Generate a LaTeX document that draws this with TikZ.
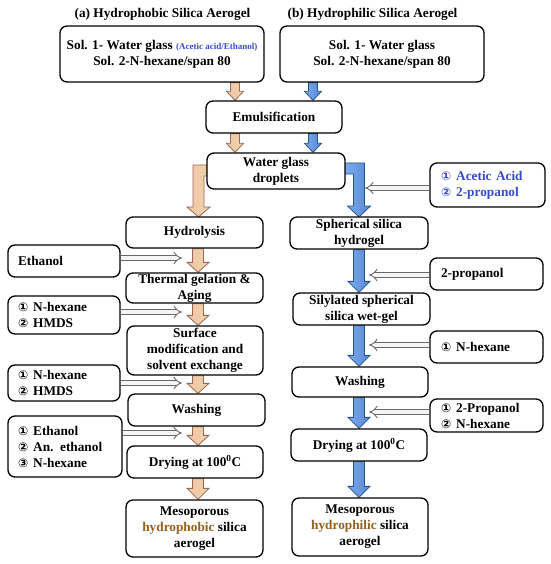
\documentclass[tikz,border=0pt]{standalone}
\usepackage{fontspec}
\setmainfont{Liberation Serif}
\newfontfamily\djfont{DejaVu Sans}
\usetikzlibrary{arrows.meta,calc,backgrounds}
\definecolor{tanL}{RGB}{244,196,170}
\definecolor{tanR}{RGB}{236,212,168}
\definecolor{tanD}{RGB}{150,105,85}
\definecolor{blueL}{RGB}{125,170,235}
\definecolor{blueR}{RGB}{85,135,215}
\definecolor{blueD}{RGB}{35,85,130}
\definecolor{hollowc}{RGB}{105,105,105}
\definecolor{bluet}{RGB}{55,75,200}
\definecolor{brownt}{RGB}{150,95,30}
\newcommand{\cnum}[1]{{\djfont\fontsize{12}{16}\selectfont #1}\hspace{5pt}}
% fat vertical arrow: #1 x, #2 top node, #3 bottom node, #4 style, #5 shaft half width, #6 head half width, #7 head length
\newcommand{\fatdown}[7]{%
  \path[#4] let \p1=(#2.south), \p2=(#3.north) in
   ({#1pt-#5pt},\y1) -- ({#1pt+#5pt},\y1) -- ({#1pt+#5pt},{\y2+#7pt}) -- ({#1pt+#6pt},{\y2+#7pt})
   -- (#1pt,\y2) -- ({#1pt-#6pt},{\y2+#7pt}) -- ({#1pt-#5pt},{\y2+#7pt}) -- cycle;}
\begin{document}
\begin{tikzpicture}[x=1pt,y=-1pt,
  txt/.style={font=\fontsize{13.3}{16}\selectfont\bfseries},
  box/.style={txt, draw=black, line width=1.3pt, rounded corners=7pt, fill=white, inner sep=0pt, align=center},
  sidebox/.style={txt, draw=black, line width=1.3pt, rounded corners=7pt, fill=white, inner xsep=10pt, inner ysep=0pt, align=left},
  hollow/.style={draw=hollowc, double=white!92!gray, double distance=3.5pt, line width=0.9pt, -{Implies}},
  tanarrow/.style={draw=tanD, line width=0.8pt, left color=tanL, right color=tanR},
  bluearrow/.style={draw=blueD, line width=0.8pt, left color=blueL, right color=blueR}
]
\useasboundingbox (0,0) rectangle (550,564);

% titles
\node[txt] (titA) at (162.5,14) {(a) Hydrophobic Silica Aerogel};
\node[txt] (titB) at (372.5,14) {(b) Hydrophilic Silica Aerogel};

% top boxes
\node[box, minimum width=204pt, minimum height=56pt] (solA) at (162,54)
  {Sol. 1- Water glass {\color{bluet}\fontsize{9}{16}\selectfont(Acetic acid/Ethanol)}\\Sol. 2-N-hexane/span 80};
\node[box, minimum width=204pt, minimum height=56pt] (solB) at (382,54)
  {Sol. 1- Water glass\\Sol. 2-N-hexane/span 80};
\node[box, minimum width=136pt, minimum height=32pt] (emul) at (274,117) {Emulsification};
\node[box, minimum width=138pt, minimum height=36pt] (wgd) at (276,171) {Water glass\\droplets};

% left chain
\node[box, minimum width=137pt, minimum height=31pt] (hyd) at (194.5,232.5) {Hydrolysis};
\node[box, minimum width=137pt, minimum height=30pt] (therm) at (194.5,288) {Thermal gelation \&\\Aging};
\node[box, minimum width=136pt, minimum height=49pt] (surf) at (195,350.5) {Surface\\modification and\\solvent exchange};
\node[box, minimum width=137pt, minimum height=32pt] (washA) at (196.5,410) {Washing};
\node[box, minimum width=136pt, minimum height=32pt] (dryA) at (195,462) {Drying at 100\textsuperscript{0}C};
\node[box, minimum width=137pt, minimum height=57pt] (finA) at (194.5,528.5)
  {Mesoporous\\{\color{brownt}hydrophobic} silica\\aerogel};

% left side boxes
\node[sidebox, text width=92pt, minimum height=32pt] (eth) at (64,261) {Ethanol};
\node[sidebox, text width=92pt, minimum height=38pt] (nh1) at (64,315) {\cnum{①}N-hexane\\\cnum{②}HMDS};
\node[sidebox, text width=92pt, minimum height=36pt] (nh2) at (64,383) {\cnum{①}N-hexane\\\cnum{②}HMDS};
\node[sidebox, text width=94pt, minimum height=61pt] (ean) at (65,446.5) {\cnum{①}Ethanol\\\cnum{②}An. ethanol\\\cnum{③}N-hexane};

% right chain
\node[box, minimum width=138pt, minimum height=32pt] (ssh) at (359,233) {Spherical silica\\hydrogel};
\node[box, minimum width=137pt, minimum height=32pt] (sil) at (361.5,309) {Silylated spherical\\silica wet-gel};
\node[box, minimum width=136pt, minimum height=30pt] (washB) at (360,382) {Washing};
\node[box, minimum width=136pt, minimum height=32pt] (dryB) at (359,445) {Drying at 100\textsuperscript{0}C};
\node[box, minimum width=136pt, minimum height=58pt] (finB) at (360,527)
  {Mesoporous\\{\color{brownt}hydrophilic} silica\\aerogel};

% right side boxes
\node[sidebox, inner xsep=11pt, text width=93pt, minimum height=44pt] (acet) at (487.5,185)
  {\color{bluet}\cnum{①}Acetic Acid\\\color{bluet}\cnum{②}2-propanol};
\node[sidebox, inner xsep=11pt, text width=91pt, minimum height=32pt] (prop) at (486.5,274) {2-propanol};
\node[sidebox, inner xsep=11pt, text width=91pt, minimum height=32pt] (nhex) at (486.5,347) {\cnum{①}N-hexane};
\node[sidebox, inner xsep=11pt, text width=91pt, minimum height=33pt] (pnh) at (486.5,415.5) {\cnum{①}2-Propanol\\\cnum{②}N-hexane};

\begin{pgfonlayer}{background}
% top arrows
\fatdown{235}{solA}{emul}{tanarrow}{4.5}{8.5}{9}
\fatdown{313}{solB}{emul}{bluearrow}{4.5}{8.5}{9}
\fatdown{235}{emul}{wgd}{tanarrow}{4.5}{8.5}{9}
\fatdown{313}{emul}{wgd}{bluearrow}{4.5}{8.5}{9}
% elbow pipes
\path[tanarrow] (207,165) -- (193,165) -- (193,207) -- (187,207) -- (198.5,217) -- (210,207)
  -- (204,207) -- (204,176) -- (207,176) -- cycle;
\path[bluearrow] (345,163) -- (364.5,163) -- (364.5,206) -- (370.5,206) -- (359,217) -- (347.5,206)
  -- (353.5,206) -- (353.5,174) -- (345,174) -- cycle;
% left chain
\fatdown{198}{hyd}{therm}{tanarrow}{5.5}{11}{10}
\fatdown{198}{therm}{surf}{tanarrow}{5.5}{11}{10}
\fatdown{198}{surf}{washA}{tanarrow}{5.5}{11}{10}
\fatdown{198}{washA}{dryA}{tanarrow}{5.5}{11}{10}
\fatdown{198}{dryA}{finA}{tanarrow}{5.5}{11}{11}
% right chain
\fatdown{359}{ssh}{sil}{bluearrow}{5.5}{11}{11}
\fatdown{359}{sil}{washB}{bluearrow}{5.5}{11}{11}
\fatdown{359}{washB}{dryB}{bluearrow}{5.5}{11}{11}
\fatdown{359}{dryB}{finB}{bluearrow}{5.5}{11}{11}
\end{pgfonlayer}

% hollow arrows
\coordinate (t1) at (182,258);
\coordinate (t2) at (182,312);
\coordinate (t3) at (182,383);
\coordinate (t4) at (182,433);
\coordinate (r1) at (365,188);
\coordinate (r2) at (369,275);
\coordinate (r3) at (369,345);
\coordinate (r4) at (369,412);
\draw[hollow] (eth.east |- t1) -- (t1);
\draw[hollow] (nh1.east |- t2) -- (t2);
\draw[hollow] (nh2.east |- t3) -- (t3);
\draw[hollow] (ean.east |- t4) -- (t4);
\draw[hollow] (acet.west |- r1) -- (r1);
\draw[hollow] (prop.west |- r2) -- (r2);
\draw[hollow] (nhex.west |- r3) -- (r3);
\draw[hollow] (pnh.west |- r4) -- (r4);
\end{tikzpicture}
\end{document}
